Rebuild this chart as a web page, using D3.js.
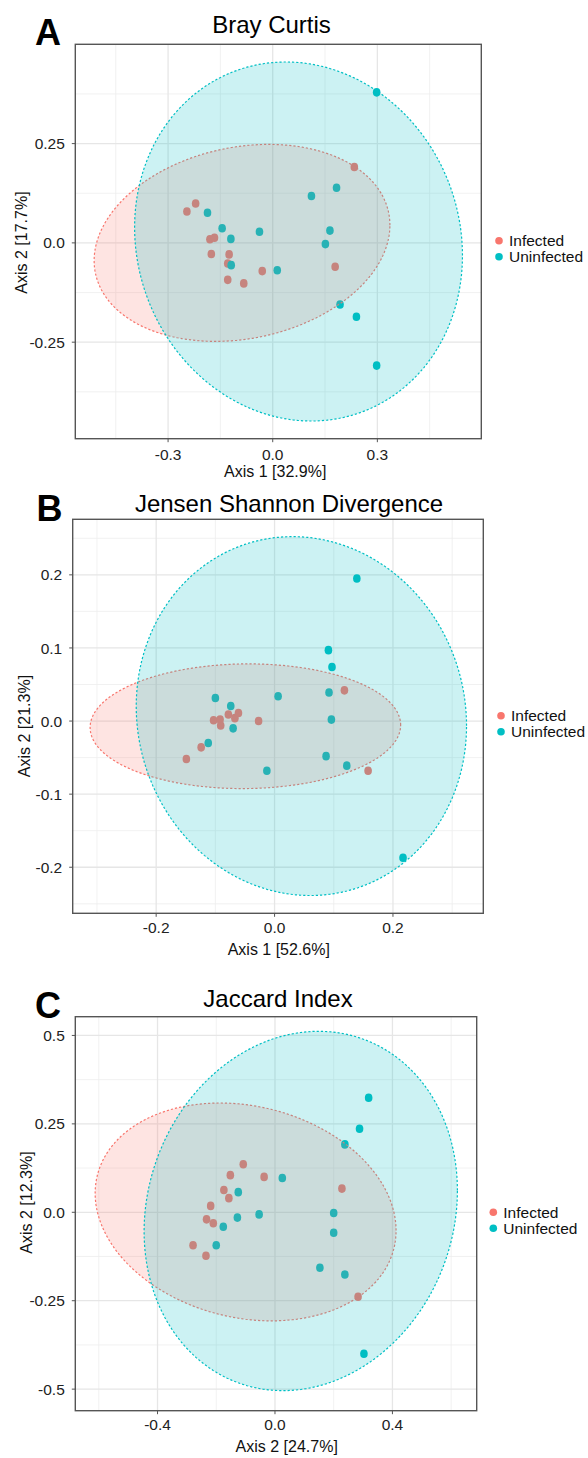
<!DOCTYPE html>
<html>
<head>
<meta charset="utf-8">
<script src="https://cdn.jsdelivr.net/npm/d3@7"></script>
<style>
  html, body { margin: 0; padding: 0; background: #fff; }
  svg { display: block; }
  text { font-family: "Liberation Sans", Arial, Helvetica, sans-serif; }
</style>
</head>
<body>
<svg id="chart" width="588" height="1458"></svg>
<script>
// ---------------- data ----------------
const groups = ["Infected", "Uninfected"];
const groupColors = ["#F8766D", "#00BFC4"];

const panelLetters = ["A", "B", "C"];
const titles = ["Bray Curtis", "Jensen Shannon Divergence", "Jaccard Index"];
const xTitles = ["Axis 1 [32.9%]", "Axis 1 [52.6%]", "Axis 2 [24.7%]"];
const yTitles = ["Axis 2 [17.7%]", "Axis 2 [21.3%]", "Axis 2 [12.3%]"];

// axis domains
const xDomains = [[-0.566, 0.598], [-0.341, 0.3526], [-0.680, 0.687]];
const yDomains = [[-0.493, 0.500], [-0.263, 0.276], [-0.561, 0.553]];

// ticks
const xTicks = [[-0.3, 0, 0.3], [-0.2, 0, 0.2], [-0.4, 0, 0.4]];
const xTickLabels = [["-0.3", "0.0", "0.3"], ["-0.2", "0.0", "0.2"], ["-0.4", "0.0", "0.4"]];
const yTicks = [[-0.25, 0, 0.25], [-0.2, -0.1, 0, 0.1, 0.2], [-0.5, -0.25, 0, 0.25, 0.5]];
const yTickLabels = [["-0.25", "0.0", "0.25"], ["-0.2", "-0.1", "0.0", "0.1", "0.2"], ["-0.5", "-0.25", "0.0", "0.25", "0.5"]];
const xMinor = [[-0.45, -0.15, 0.15, 0.45], [-0.3, -0.1, 0.1, 0.3], [-0.6, -0.2, 0.2, 0.6]];
const yMinor = [[-0.375, -0.125, 0.125, 0.375], [-0.25, -0.15, -0.05, 0.05, 0.15, 0.25], [-0.375, -0.125, 0.125, 0.375]];

// points: [axis1, axis2]
const brayInfected = [
  [-0.246, 0.079], [-0.221, 0.099], [-0.180, 0.009], [-0.167, 0.013], [-0.176, -0.028],
  [-0.125, -0.029], [-0.129, -0.052], [-0.129, -0.093], [-0.083, -0.102], [-0.030, -0.071],
  [0.234, 0.191], [0.179, -0.060]
];
const brayUninfected = [
  [-0.187, 0.076], [-0.145, 0.037], [-0.120, 0.010], [-0.119, -0.056], [-0.038, 0.028],
  [0.013, -0.069], [0.111, 0.118], [0.183, 0.139], [0.164, 0.031], [0.151, -0.003],
  [0.193, -0.155], [0.240, -0.186], [0.298, -0.309], [0.298, 0.379]
];
const jsdInfected = [
  [-0.149, -0.052], [-0.124, -0.036], [-0.103, 0.001], [-0.092, 0.002], [-0.091, -0.006],
  [-0.078, 0.009], [-0.067, 0.004], [-0.061, 0.011], [-0.027, 0.000], [0.118, 0.042],
  [0.158, -0.068]
];
const jsdUninfected = [
  [-0.100, 0.0315], [-0.074, 0.0205], [-0.070, -0.010], [-0.112, -0.030], [0.006, 0.034],
  [-0.013, -0.068], [0.139, 0.195], [0.091, 0.097], [0.097, 0.074], [0.092, 0.039],
  [0.096, 0.002], [0.087, -0.048], [0.122, -0.061], [0.217, -0.187]
];
const jaccardInfected = [
  [-0.108, 0.136], [-0.152, 0.105], [-0.037, 0.100], [-0.174, 0.063], [-0.157, 0.040],
  [-0.219, 0.018], [-0.233, -0.020], [-0.210, -0.031], [-0.279, -0.093], [-0.235, -0.123],
  [0.228, 0.067], [0.283, -0.239]
];
const jaccardUninfected = [
  [-0.125, 0.057], [-0.128, -0.015], [-0.176, -0.041], [-0.200, -0.093], [-0.054, -0.006],
  [0.025, 0.097], [0.200, -0.002], [0.200, -0.058], [0.153, -0.157], [0.238, -0.176],
  [0.238, 0.192], [0.288, 0.236], [0.319, 0.324], [0.303, -0.400]
];

// 95% ellipses: [centerX, centerY, halfWidthX, halfHeightY, correlation]
const brayEllipses = [[-0.088, 0.000, 0.424, 0.248, 0.18], [0.074, 0.0035, 0.470, 0.452, -0.078]];
const jsdEllipses = [[-0.0493, -0.0071, 0.2623, 0.0853, 0.02], [0.0453, 0.0068, 0.279, 0.2455, -0.054]];
const jaccardEllipses = [[-0.100, 0.001, 0.5124, 0.308, -0.171], [0.0878, 0.0037, 0.5335, 0.508, 0.114]];

const pointSets = [[brayInfected, brayUninfected], [jsdInfected, jsdUninfected], [jaccardInfected, jaccardUninfected]];
const ellipseSets = [brayEllipses, jsdEllipses, jaccardEllipses];

// ---------------- layout ----------------
const layout = [
  { left: 75.3, right: 481.3, top: 44.3, bottom: 438.7,
    title: [271.5, 33], letter: [35, 45], xLabBase: 460, xTitle: [275.2, 476.7], yTitle: [26.5, 242.5],
    legend: [499, 240.7] },
  { left: 72.7, right: 483.3, top: 519.3, bottom: 913.3,
    title: [289, 511.7], letter: [36.5, 521], xLabBase: 933.3, xTitle: [278.8, 955], yTitle: [30, 726],
    legend: [501, 715.7] },
  { left: 75.3, right: 476.7, top: 1016.7, bottom: 1410.7,
    title: [278, 1007.3], letter: [35, 1017.7], xLabBase: 1430, xTitle: [286.7, 1451.7], yTitle: [32, 1202.5],
    legend: [493.3, 1212.3] }
];

const svg = d3.select("#chart");

function ellipsePoints(e) {
  const [cx, cy, hx, hy, r] = e;
  const s = Math.sqrt(1 - r * r);
  return d3.range(0, 181).map(i => {
    const t = i / 180 * 2 * Math.PI;
    const c = Math.cos(t), sn = Math.sin(t);
    return [cx + hx * c, cy + hy * (r * c + s * sn)];
  });
}

layout.forEach((L, p) => {
  const x = d3.scaleLinear().domain(xDomains[p]).range([L.left, L.right]);
  const y = d3.scaleLinear().domain(yDomains[p]).range([L.bottom, L.top]);
  const g = svg.append("g");

  // minor grid
  g.selectAll(".xminor").data(xMinor[p]).enter().append("line")
    .attr("x1", d => x(d)).attr("x2", d => x(d))
    .attr("y1", L.top).attr("y2", L.bottom)
    .attr("stroke", "#EDEDED").attr("stroke-width", 0.8);
  g.selectAll(".yminor").data(yMinor[p]).enter().append("line")
    .attr("y1", d => y(d)).attr("y2", d => y(d))
    .attr("x1", L.left).attr("x2", L.right)
    .attr("stroke", "#EDEDED").attr("stroke-width", 0.8);
  // major grid
  g.selectAll(".xmajor").data(xTicks[p]).enter().append("line")
    .attr("x1", d => x(d)).attr("x2", d => x(d))
    .attr("y1", L.top).attr("y2", L.bottom)
    .attr("stroke", "#E6E6E6").attr("stroke-width", 1.3);
  g.selectAll(".ymajor").data(yTicks[p]).enter().append("line")
    .attr("y1", d => y(d)).attr("y2", d => y(d))
    .attr("x1", L.left).attr("x2", L.right)
    .attr("stroke", "#E6E6E6").attr("stroke-width", 1.3);

  // points (drawn beneath ellipses)
  pointSets[p].forEach((pts, gi) => {
    g.selectAll(".pt" + gi).data(pts).enter().append("ellipse")
      .attr("cx", d => x(d[0])).attr("cy", d => y(d[1]))
      .attr("rx", 3.8).attr("ry", 4.3)
      .attr("fill", groupColors[gi]);
  });

  // ellipses
  const line = d3.line().x(d => x(d[0])).y(d => y(d[1])).curve(d3.curveLinearClosed);
  ellipseSets[p].forEach((e, gi) => {
    g.append("path")
      .attr("d", line(ellipsePoints(e)))
      .attr("fill", groupColors[gi]).attr("fill-opacity", 0.2)
      .attr("stroke", groupColors[gi]).attr("stroke-width", 1.2)
      .attr("stroke-dasharray", "2.2,2");
  });

  // panel border
  g.append("rect")
    .attr("x", L.left).attr("y", L.top)
    .attr("width", L.right - L.left).attr("height", L.bottom - L.top)
    .attr("fill", "none").attr("stroke", "#555").attr("stroke-width", 1.4);

  // ticks
  g.selectAll(".xt").data(xTicks[p]).enter().append("line")
    .attr("x1", d => x(d)).attr("x2", d => x(d))
    .attr("y1", L.bottom).attr("y2", L.bottom + 3.5)
    .attr("stroke", "#555").attr("stroke-width", 1);
  g.selectAll(".yt").data(yTicks[p]).enter().append("line")
    .attr("y1", d => y(d)).attr("y2", d => y(d))
    .attr("x1", L.left - 3.5).attr("x2", L.left)
    .attr("stroke", "#555").attr("stroke-width", 1);

  // tick labels
  g.selectAll(".xl").data(xTicks[p]).enter().append("text")
    .attr("x", d => x(d)).attr("y", L.xLabBase)
    .attr("text-anchor", "middle").attr("font-size", 15.5).attr("fill", "#222")
    .text((d, i) => xTickLabels[p][i]);
  g.selectAll(".yl").data(yTicks[p]).enter().append("text")
    .attr("x", L.left - 10.5).attr("y", d => y(d)).attr("dy", "0.36em")
    .attr("text-anchor", "end").attr("font-size", 15.5).attr("fill", "#222")
    .text((d, i) => yTickLabels[p][i]);

  // axis titles
  g.append("text").attr("x", L.xTitle[0]).attr("y", L.xTitle[1])
    .attr("text-anchor", "middle").attr("font-size", 16).attr("fill", "#111")
    .text(xTitles[p]);
  g.append("text")
    .attr("transform", `translate(${L.yTitle[0]},${L.yTitle[1]}) rotate(-90)`)
    .attr("text-anchor", "middle").attr("font-size", 16).attr("fill", "#111")
    .text(yTitles[p]);

  // title
  g.append("text").attr("x", L.title[0]).attr("y", L.title[1])
    .attr("text-anchor", "middle").attr("font-size", 24).attr("fill", "#000")
    .text(titles[p]);

  // panel letter
  g.append("text").attr("x", L.letter[0]).attr("y", L.letter[1])
    .attr("font-family", "'Open Sans', 'Liberation Sans', sans-serif")
    .attr("font-weight", 700).attr("font-size", 36).attr("fill", "#000")
    .text(panelLetters[p]);

  // legend
  groups.forEach((name, gi) => {
    const ly = L.legend[1] + gi * 16;
    g.append("circle").attr("cx", L.legend[0]).attr("cy", ly).attr("r", 3.8)
      .attr("fill", groupColors[gi]);
    g.append("text").attr("x", L.legend[0] + 10).attr("y", ly).attr("dy", "0.36em")
      .attr("font-size", 15.5).attr("fill", "#111").text(name);
  });
});
</script>
</body>
</html>
